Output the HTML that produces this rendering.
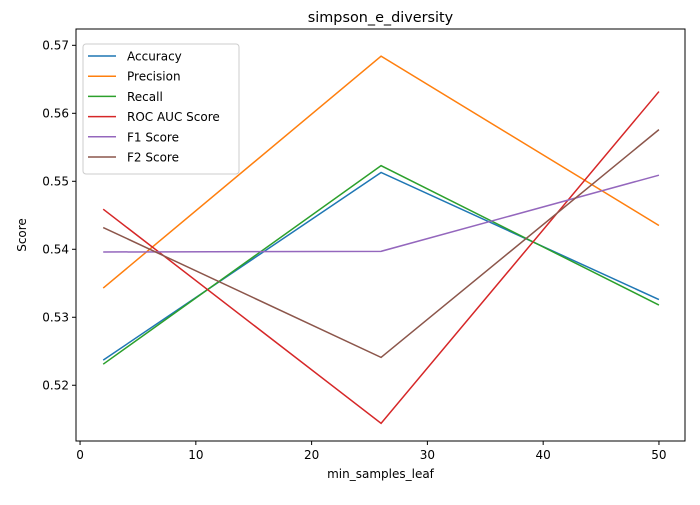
<!DOCTYPE html>
<html><head><meta charset="utf-8"><style>
body{margin:0;background:#fff;font-family:"Liberation Sans","DejaVu Sans",sans-serif;}
svg text{font-family:"DejaVu Sans","Liberation Sans",sans-serif;}
</style></head><body>
<svg id="chart" width="700" height="500" xmlns="http://www.w3.org/2000/svg"></svg>
<script>
const xValues=[2,26,50];
const seriesNames=["Accuracy","Precision","Recall","ROC AUC Score","F1 Score","F2 Score"];
const accuracy=[0.5237,0.5513,0.5326];
const precision=[0.5343,0.5684,0.5435];
const recall=[0.5231,0.5523,0.5318];
const rocAuc=[0.5459,0.5144,0.5632];
const f1=[0.5396,0.5397,0.5509];
const f2=[0.5432,0.5241,0.5576];
const xTicks=[0,10,20,30,40,50];
const yTicks=[0.52,0.53,0.54,0.55,0.56,0.57];
const allSeries=[accuracy,precision,recall,rocAuc,f1,f2];
const colors=["#1f77b4","#ff7f0e","#2ca02c","#d62728","#9467bd","#8c564b"];
const L=76,R=685,T=29,B=441;
const xMin=-0.35,xMax=52.25,yMin=0.5118,yMax=0.5724;
const sx=v=>L+(v-xMin)/(xMax-xMin)*(R-L);
const sy=v=>B-(v-yMin)/(yMax-yMin)*(B-T);
const svg=document.getElementById('chart');
const NS="http://www.w3.org/2000/svg";
function mk(tag,attrs,parent){const e=document.createElementNS(NS,tag);for(const k in attrs)e.setAttribute(k,attrs[k]);(parent||svg).appendChild(e);return e;}
const frame=mk('rect',{x:L,y:T,width:R-L,height:B-T,fill:'none',stroke:'#000','stroke-width':1});


xTicks.forEach(t=>{const x=sx(t);
 const l=mk('line',{x1:x,x2:x,y1:B,y2:B+4,stroke:'#000'});
 
 
 const tx=mk('text',{x:x,y:B+18,'text-anchor':'middle','font-size':12});tx.textContent=t;
 
 
});
yTicks.forEach(t=>{const y=sy(t);
 const l=mk('line',{x1:L-4,x2:L,y1:y,y2:y,stroke:'#000'});
 
 
 const tx=mk('text',{x:L-7,y:y+4,'text-anchor':'end','font-size':12});tx.textContent=t.toFixed(2);
 
 
});
allSeries.forEach((s,i)=>{
 const p=mk('polyline',{points:s.map((v,j)=>sx(xValues[j])+','+sy(v)).join(' '),fill:'none',stroke:colors[i],'stroke-width':1.5});
 
 
});
const title=mk('text',{x:(L+R)/2,y:T-7,'text-anchor':'middle','font-size':14.4});title.textContent='simpson_e_diversity';


const xl=mk('text',{x:(L+R)/2,y:478,'text-anchor':'middle','font-size':12});xl.textContent='min_samples_leaf';


const yl=mk('text',{x:0,y:0,'text-anchor':'middle','font-size':12,transform:'translate(26,'+((T+B)/2)+') rotate(-90)'});yl.textContent='Score';


const lg=mk('g',{});


mk('rect',{x:83,y:44,width:156,height:130,rx:3,fill:'#fff','fill-opacity':0.8,stroke:'#ccc'},lg);
seriesNames.forEach((n,i)=>{const y=56+i*20.2;
 const e=mk('g',{},lg);
 
 
 mk('line',{x1:88,x2:116,y1:y,y2:y,stroke:colors[i],'stroke-width':1.5},e);
 const t=mk('text',{x:127,y:y+4.5,'font-size':12},e);t.textContent=n;
});
</script>
</body></html>
